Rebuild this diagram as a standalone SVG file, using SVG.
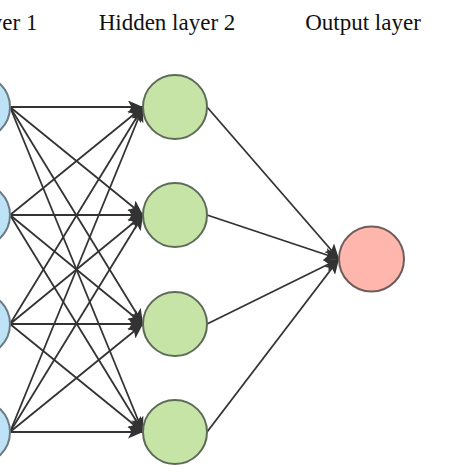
<svg xmlns="http://www.w3.org/2000/svg" width="474" height="474" viewBox="0 0 474 474">
<style>
.lbl{font-family:"Liberation Serif","Times New Roman",serif;font-size:23px;fill:#111;}
.e{stroke:#333;stroke-width:1.8;fill:none;marker-end:url(#arr);}
.blue{fill:#bfe3f6;stroke:#6b7a85;stroke-width:2;}
.green{fill:#c6e4a6;stroke:#5d6b58;stroke-width:2;}
.red{fill:#ffb6ac;stroke:#6e5d5c;stroke-width:2;}
</style>
<defs>
<marker id="arr" viewBox="0 0 15 13" refX="15" refY="6.5" markerWidth="15" markerHeight="13" markerUnits="userSpaceOnUse" orient="auto">
<path d="M0,0 L15,6.5 L0,13 L3.5,6.5 Z" fill="#333"/>
</marker>
</defs>
<rect width="474" height="474" fill="#fff"/>
<g id="labels">
<text class="lbl" x="37.5" y="30" text-anchor="end">Hidden layer 1</text>
<text class="lbl" x="167" y="30" text-anchor="middle">Hidden layer 2</text>
<text class="lbl" x="363" y="30" text-anchor="middle">Output layer</text>
</g>
<g id="connectors">
<line class="e" x1="10" y1="107" x2="143" y2="107"/>
<line class="e" x1="10" y1="107" x2="143" y2="215"/>
<line class="e" x1="10" y1="107" x2="143" y2="324"/>
<line class="e" x1="10" y1="107" x2="143" y2="432"/>
<line class="e" x1="10" y1="215" x2="143" y2="107"/>
<line class="e" x1="10" y1="215" x2="143" y2="215"/>
<line class="e" x1="10" y1="215" x2="143" y2="324"/>
<line class="e" x1="10" y1="215" x2="143" y2="432"/>
<line class="e" x1="10" y1="324" x2="143" y2="107"/>
<line class="e" x1="10" y1="324" x2="143" y2="215"/>
<line class="e" x1="10" y1="324" x2="143" y2="324"/>
<line class="e" x1="10" y1="324" x2="143" y2="432"/>
<line class="e" x1="10" y1="432" x2="143" y2="107"/>
<line class="e" x1="10" y1="432" x2="143" y2="215"/>
<line class="e" x1="10" y1="432" x2="143" y2="324"/>
<line class="e" x1="10" y1="432" x2="143" y2="432"/>
<line class="e" x1="207" y1="107" x2="339" y2="259"/>
<line class="e" x1="207" y1="215" x2="339" y2="259"/>
<line class="e" x1="207" y1="324" x2="339" y2="259"/>
<line class="e" x1="207" y1="432" x2="339" y2="259"/>
</g>
<g id="in1"><circle class="blue" cx="-22" cy="107" r="32"/></g>
<g id="in2"><circle class="blue" cx="-22" cy="215" r="32"/></g>
<g id="in3"><circle class="blue" cx="-22" cy="324" r="32"/></g>
<g id="in4"><circle class="blue" cx="-22" cy="432" r="32"/></g>
<g id="h1"><circle class="green" cx="175" cy="107" r="32"/></g>
<g id="h2"><circle class="green" cx="175" cy="215" r="32"/></g>
<g id="h3"><circle class="green" cx="175" cy="324" r="32"/></g>
<g id="h4"><circle class="green" cx="175" cy="432" r="32"/></g>
<g id="out"><circle class="red" cx="371.5" cy="259" r="32.5"/></g>
</svg>
